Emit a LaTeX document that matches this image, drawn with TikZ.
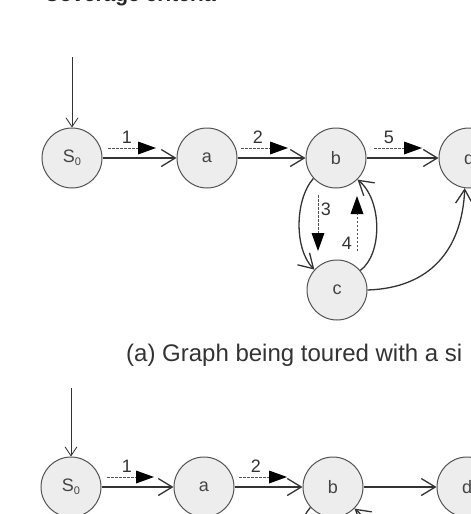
\documentclass[tikz,border=0pt]{standalone}
\usepackage{fontspec}
\setmainfont{Liberation Sans}
\usetikzlibrary{arrows.meta}
\definecolor{nodefill}{HTML}{EDEDED}
\definecolor{edgecol}{HTML}{333333}
\definecolor{txtcol}{HTML}{444444}
\tikzset{
  state/.style={circle, draw=edgecol!85, fill=nodefill, line width=1pt,
    minimum size=60pt, inner sep=0pt, text=txtcol,
    font=\fontsize{18}{18}\selectfont},
  trans/.style={draw=edgecol, line width=1.3pt,
    -{Straight Barb[length=14pt, width=17pt, line width=1.3pt]}},
  initarrow/.style={draw=edgecol, line width=0.8pt,
    -{Straight Barb[length=9pt, width=12pt, line width=0.8pt]}},
  tour/.style={draw=edgecol!85, line width=1pt, dash pattern=on 2.5pt off 1.5pt,
    -{Triangle[length=18pt, width=13pt, fill=black, line width=0pt]}},
  num/.style={text=edgecol, inner sep=0pt, font=\fontsize{18}{18}\selectfont},
}
\newcommand{\szero}{S\raisebox{-3.5pt}{\fontsize{11}{11}\selectfont 0}}
\begin{document}
\begin{tikzpicture}[x=1pt, y=-1pt]
\useasboundingbox (0,0) rectangle (471,514);
% title (cut off at top)
\node[anchor=base west, inner sep=0pt, font=\bfseries\fontsize{21}{21}\selectfont, text=black!85] (title) at (44,1.5) {Coverage criteria};

% ---------- graph (a) ----------
\node[state] (s0) at (72,158) {\szero};
\node[state] (a) at (207,158) {a};
\node[state] (b) at (336,158) {b};
\node[state] (d) at (469,158) {d};
\node[state] (c) at (337,290) {c};
\coordinate (i0) at (72,57);
\draw[initarrow] (i0) -- (s0);
\draw[trans] (s0) -- (a);
\draw[trans] (a) -- (b);
\draw[trans] (b) -- (d);
\draw[trans] (b.222) .. controls +(-19,22) and +(-20,-20) .. (c.138);
\draw[trans] (c.40) .. controls +(22,-16) and +(25,21) .. (b.315);
\draw[trans] (c.east) .. controls (430,288) and (462,250) .. (d.262);

\coordinate (t1s) at (108,148); \coordinate (t1e) at (156,148);
\draw[tour] (t1s) -- (t1e);
\node[num] (n1) at (127,137) {1};
\coordinate (t2s) at (241,148); \coordinate (t2e) at (288,148);
\draw[tour] (t2s) -- (t2e);
\node[num] (n2) at (258,137) {2};
\coordinate (t5s) at (374,148); \coordinate (t5e) at (422,148);
\draw[tour] (t5s) -- (t5e);
\node[num] (n5) at (389,137) {5};
\coordinate (t3s) at (318,195); \coordinate (t3e) at (318,251);
\draw[tour] (t3s) -- (t3e);
\node[num] (n3) at (326,209) {3};
\coordinate (t4s) at (357,251); \coordinate (t4e) at (357,196);
\draw[tour] (t4s) -- (t4e);
\node[num] (n4) at (347,243) {4};

\node[anchor=base west, inner sep=0pt, text=black!80, font=\fontsize{24}{24}\selectfont] (cap) at (126,361) {(a) Graph being toured with a si};

% ---------- graph (b) ----------
\node[state] (s0b) at (71,487) {\szero};
\node[state] (ab) at (204,487) {a};
\node[state] (bb) at (333,487) {b};
\node[state] (db) at (467,487) {d};
\coordinate (i0b) at (71,388);
\draw[initarrow] (i0b) -- (s0b);
\draw[trans] (s0b) -- (ab);
\draw[trans] (ab) -- (bb);
\draw[trans] (bb) -- (db);
\coordinate (cbl) at (314,599);
\coordinate (cbr) at (357,599);
\draw[trans] (bb.222) .. controls +(-19,22) and +(-20,-20) .. (cbl);
\draw[trans] (cbr) .. controls +(22,-16) and +(25,21) .. (bb.315);
\coordinate (u1s) at (107,477); \coordinate (u1e) at (154,477);
\draw[tour] (u1s) -- (u1e);
\node[num] (m1) at (127,466) {1};
\coordinate (u2s) at (239,477); \coordinate (u2e) at (287,477);
\draw[tour] (u2s) -- (u2e);
\node[num] (m2) at (256,466) {2};
\end{tikzpicture}
\end{document}
